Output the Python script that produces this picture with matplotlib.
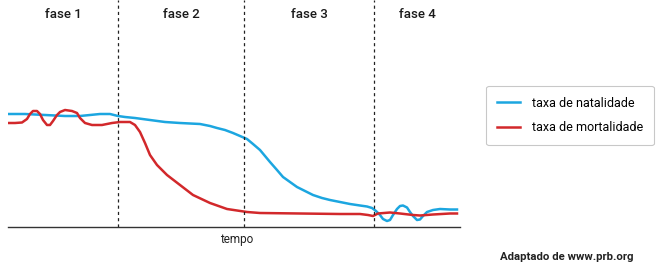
import matplotlib.pyplot as plt

# transicao demografica (tempo, taxa)
tempo_nat = [0, 17, 37, 57, 72, 82, 92, 102, 110, 117, 127, 142, 157, 172, 192,
             202, 209, 217, 225, 232, 239, 245, 252, 257, 262, 269, 275, 282,
             289, 297, 305, 314, 322, 332, 342, 352, 359, 364, 368, 372, 375,
             379, 382, 385, 389, 392, 395, 399, 402, 405, 409, 412, 415, 419,
             425, 432, 442, 449]
taxa_nat = [113, 113, 112, 111, 111, 112, 113, 113, 111, 110, 109, 107, 105, 104, 103,
            101, 99, 97, 94, 91, 88, 83, 77, 71, 65, 57, 50, 45,
            40, 36, 32, 29, 27, 25, 23, 21.5, 20.5, 19, 16, 12, 8,
            6, 7, 12, 18, 21, 21.5, 19.5, 15, 11, 7, 7.5, 11, 15,
            17, 18, 17.5, 17.5]

tempo_mort = [0, 7, 14, 19, 22, 25, 29, 32, 35, 39, 42, 45, 49, 52, 57, 64, 69,
              72, 77, 84, 94, 104, 112, 122, 127, 132, 137, 142, 149, 159, 172,
              185, 202, 219, 239, 252, 292, 332, 352, 360, 365, 370, 382, 392,
              405, 412, 425, 442, 449]
taxa_mort = [104, 104, 104.5, 108, 113, 116, 116, 113, 107, 102, 102, 106, 112, 115, 117, 116, 114,
             109, 104, 102, 102, 104, 105, 105, 102, 95, 84, 72, 62, 52, 42,
             32, 24, 18, 15, 14, 13.5, 13, 13, 12, 11, 13.5, 14.5, 13.5,
             12, 11.5, 12.5, 13.5, 13.5]

limites_fases = [110, 236, 366]
fases = ["fase 1", "fase 2", "fase 3", "fase 4"]
t_max = 452

azul = "#1ca6e0"
vermelho = "#d2282b"

plt.rcParams['font.family'] = ['Roboto', 'DejaVu Sans']

fig = plt.figure(figsize=(6.6, 2.69), dpi=100)
ax = fig.add_axes([8 / 660, 42 / 269, 452 / 660, 227 / 269])

ax.plot(tempo_nat, taxa_nat, color=azul, lw=1.8, solid_joinstyle='round',
        label="taxa de natalidade")
ax.plot(tempo_mort, taxa_mort, color=vermelho, lw=1.8, solid_joinstyle='round',
        label="taxa de mortalidade")

for x in limites_fases:
    ax.axvline(x, color="#222222", lw=0.9, ls=(0, (2.5, 2.5)))

# rotulos das fases centrados entre as divisoes
bordas = [0] + limites_fases + [t_max]
for i, nome in enumerate(fases):
    ax.text((bordas[i] + bordas[i + 1]) / 2, 213, nome, ha='center', va='center',
            fontsize=9.5, fontweight='medium', color="#1a1a1a")

ax.set_xlim(0, t_max)
ax.set_ylim(0, 227)
for s in ['top', 'right', 'left']:
    ax.spines[s].set_visible(False)
ax.spines['bottom'].set_color("#333333")
ax.spines['bottom'].set_linewidth(1.0)
ax.set_xticks([])
ax.set_yticks([])
ax.patch.set_alpha(0)

fig.text(237 / 660, 1 - 240 / 269, "tempo", ha='center', va='center',
         fontsize=8.5, color="#222222")
fig.text(633 / 660, 1 - 257 / 269, "Adaptado de www.prb.org", ha='right',
         va='center', fontsize=8.2, fontweight='bold', color="#222222")

leg = fig.legend(loc='upper left', bbox_to_anchor=(486 / 660, 1 - 86 / 269),
                 borderaxespad=0, fontsize=9, frameon=True, fancybox=True,
                 edgecolor="#bbbbbb", handlelength=1.9, labelspacing=0.95,
                 borderpad=0.85, handletextpad=0.9)
leg.get_frame().set_linewidth(0.8)

fig.savefig("out.png", dpi=100)
